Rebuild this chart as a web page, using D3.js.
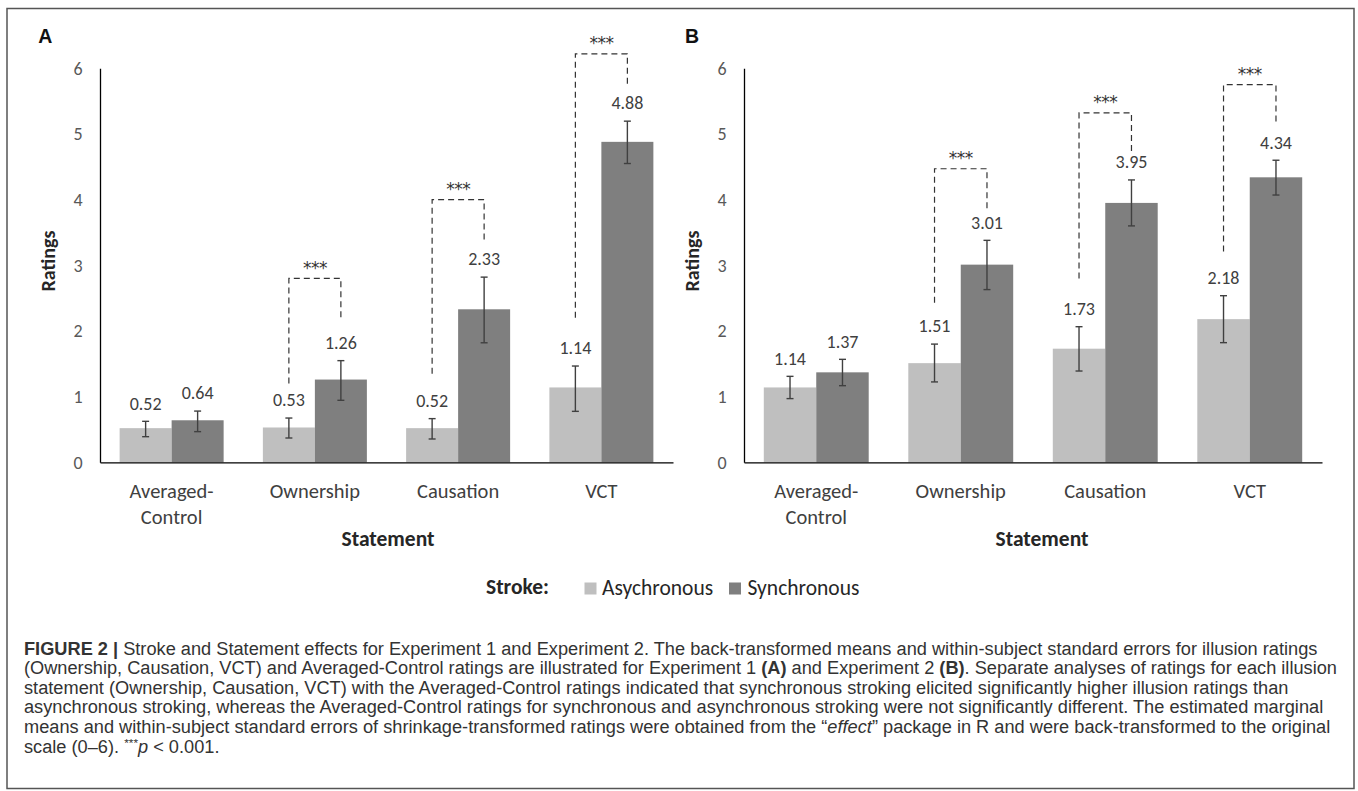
<!DOCTYPE html>
<html>
<head>
<meta charset="utf-8">
<script src="https://d3js.org/d3.v7.min.js"></script>
<style>
  html, body { margin: 0; padding: 0; background: #fff; }
  svg { display: block; }
</style>
</head>
<body>
<svg id="chart" width="1358" height="791"></svg>
<script>
// ---------------- DATA ----------------
const categories = ["Averaged-Control", "Ownership", "Causation", "VCT"];
const categoryLines = [["Averaged-", "Control"], ["Ownership"], ["Causation"], ["VCT"]];
const seriesNames = ["Asychronous", "Synchronous"];
const yTicks = [0, 1, 2, 3, 4, 5, 6];

// Experiment 1 (panel A)
const asyncA   = [0.52, 0.53, 0.52, 1.14];
const asyncAlo = [0.39, 0.37, 0.355, 0.776];
const asyncAhi = [0.624, 0.674, 0.665, 1.466];
const syncA    = [0.64, 1.26, 2.33, 4.88];
const syncAlo  = [0.467, 0.944, 1.82, 4.55];
const syncAhi  = [0.78, 1.548, 2.82, 5.195];
// significance brackets (rating-scale levels) for Ownership, Causation, VCT
const sigCatsA  = ["Ownership", "Causation", "VCT"];
const sigTopA   = [2.80, 4.00, 6.22];
const sigLeftA  = [1.20, 1.35, 2.20];
const sigRightA = [2.20, 3.38, 5.74];

// Experiment 2 (panel B)
const asyncB   = [1.14, 1.51, 1.73, 2.18];
const asyncBlo = [0.97, 1.224, 1.39, 1.822];
const asyncBhi = [1.309, 1.80, 2.065, 2.537];
const syncB    = [1.37, 3.01, 3.95, 4.34];
const syncBlo  = [1.167, 2.63, 3.60, 4.07];
const syncBhi  = [1.568, 3.38, 4.30, 4.60];
const sigCatsB  = ["Ownership", "Causation", "VCT"];
const sigTopB   = [4.47, 5.32, 5.75];
const sigLeftB  = [2.43, 2.80, 3.21];
const sigRightB = [3.86, 4.72, 5.14];

const sigLabel = "***";

// ---------------- STYLE ----------------
const chartFont = "Carlito, Calibri, Lato, 'Open Sans', sans-serif";
const colAsync = "#bfbfbf";
const colSync = "#7f7f7f";
const colErr = "#404040";

const svg = d3.select("#chart");

// outer frame
svg.append("rect")
  .attr("x", 7).attr("y", 8.5).attr("width", 1347).attr("height", 780)
  .attr("fill", "none").attr("stroke", "#555").attr("stroke-width", 1.5);

function drawPanel(cfg) {
  const g = svg.append("g");
  const x0 = d3.scaleBand().domain(categories).range(cfg.xRange)
    .paddingInner(0.274).paddingOuter(0.137);
  const x1 = d3.scaleBand().domain(seriesNames).range([0, x0.bandwidth()]);
  const y = d3.scaleLinear().domain([0, 6]).range([462.3, 68.3]);

  // panel letter
  g.append("text").attr("x", cfg.letterX).attr("y", 43.3)
    .attr("font-family", "'Liberation Sans', Arial, sans-serif")
    .attr("font-weight", "bold").attr("font-size", 19.5).attr("fill", "#111")
    .text(cfg.letter);

  // y axis (line + labels)
  const yAxis = d3.axisLeft(y).tickValues(yTicks).tickSize(0).tickPadding(17.5)
    .tickFormat(d3.format("d"));
  const ya = g.append("g").attr("transform", `translate(${cfg.xRange[0]},0)`).call(yAxis);
  ya.select(".domain").attr("stroke", "#000").attr("stroke-width", 1.3);
  ya.selectAll("text").attr("font-family", chartFont).attr("font-size", 18).attr("fill", "#595959");

  // bars
  const series = [
    { name: seriesNames[0], vals: cfg.asy, lo: cfg.asyLo, hi: cfg.asyHi, col: colAsync },
    { name: seriesNames[1], vals: cfg.syn, lo: cfg.synLo, hi: cfg.synHi, col: colSync }
  ];
  series.forEach(s => {
    const cx = (i) => x0(categories[i]) + x1(s.name) + x1.bandwidth() / 2;
    g.selectAll(null).data(s.vals).enter().append("rect")
      .attr("x", (d, i) => x0(categories[i]) + x1(s.name))
      .attr("y", d => y(d))
      .attr("width", x1.bandwidth())
      .attr("height", d => y(0) - y(d))
      .attr("fill", s.col);
    // error bars
    const eb = g.selectAll(null).data(s.vals).enter().append("g")
      .attr("stroke", colErr).attr("stroke-width", 1.4);
    eb.append("line").attr("x1", (d, i) => cx(i)).attr("x2", (d, i) => cx(i))
      .attr("y1", (d, i) => y(s.lo[i])).attr("y2", (d, i) => y(s.hi[i]));
    eb.append("line").attr("x1", (d, i) => cx(i) - 3.5).attr("x2", (d, i) => cx(i) + 3.5)
      .attr("y1", (d, i) => y(s.lo[i])).attr("y2", (d, i) => y(s.lo[i]));
    eb.append("line").attr("x1", (d, i) => cx(i) - 3.5).attr("x2", (d, i) => cx(i) + 3.5)
      .attr("y1", (d, i) => y(s.hi[i])).attr("y2", (d, i) => y(s.hi[i]));
    // value labels
    g.selectAll(null).data(s.vals).enter().append("text")
      .attr("x", (d, i) => cx(i))
      .attr("y", (d, i) => y(s.hi[i]) - 18)
      .attr("dy", "0.35em")
      .attr("text-anchor", "middle")
      .attr("font-family", chartFont).attr("font-size", 18).attr("fill", "#404040")
      .text(d => d3.format(".2f")(d));
  });

  // x axis line
  const xAxis = d3.axisBottom(x0).tickSize(0).tickFormat("");
  const xa = g.append("g").attr("transform", `translate(0,${y(0)})`).call(xAxis);
  xa.select(".domain").attr("stroke", "#000").attr("stroke-width", 1.3);

  // category labels
  categories.forEach((c, i) => {
    const t = g.append("text").attr("text-anchor", "middle")
      .attr("font-family", chartFont).attr("font-size", 20.5).attr("fill", "#404040");
    categoryLines[i].forEach((ln, k) => {
      t.append("tspan").attr("x", x0(c) + x0.bandwidth() / 2)
        .attr("y", 497.5 + k * 26).text(ln);
    });
  });

  // axis titles
  g.append("text")
    .attr("x", (cfg.xRange[0] + cfg.xRange[1]) / 2 + cfg.titleShift).attr("y", 545.5)
    .attr("text-anchor", "middle").attr("font-family", chartFont)
    .attr("font-weight", "bold").attr("font-size", 21.5).attr("fill", "#262626")
    .text("Statement");
  g.append("text")
    .attr("transform", `translate(${cfg.xRange[0] - 45},${261}) rotate(-90)`)
    .attr("text-anchor", "middle").attr("font-family", chartFont)
    .attr("font-weight", "bold").attr("font-size", 20).attr("fill", "#262626")
    .text("Ratings");

  // significance brackets
  cfg.sigCats.forEach((c, i) => {
    const xl = x0(c) + x1(seriesNames[0]) + x1.bandwidth() / 2;
    const xr = x0(c) + x1(seriesNames[1]) + x1.bandwidth() / 2;
    const yt = y(cfg.sigTop[i]);
    g.append("path")
      .attr("d", `M${xl},${y(cfg.sigLeft[i])}V${yt}H${xr}V${y(cfg.sigRight[i])}`)
      .attr("fill", "none").attr("stroke", "#333").attr("stroke-width", 1.2)
      .attr("stroke-dasharray", "6,4");
    g.append("text").attr("x", (xl + xr) / 2).attr("y", yt - 17).attr("dy", "0.72em")
      .attr("text-anchor", "middle").attr("font-family", "'DejaVu Sans', sans-serif")
      .attr("font-size", 17).attr("letter-spacing", -0.5).attr("fill", "#333").text(sigLabel);
  });
}

drawPanel({
  letter: "A", letterX: 38.3, xRange: [100, 673], titleShift: 1.5,
  asy: asyncA, asyLo: asyncAlo, asyHi: asyncAhi,
  syn: syncA, synLo: syncAlo, synHi: syncAhi,
  sigCats: sigCatsA, sigTop: sigTopA, sigLeft: sigLeftA, sigRight: sigRightA
});
drawPanel({
  letter: "B", letterX: 685, xRange: [744, 1322], titleShift: 9,
  asy: asyncB, asyLo: asyncBlo, asyHi: asyncBhi,
  syn: syncB, synLo: syncBlo, synHi: syncBhi,
  sigCats: sigCatsB, sigTop: sigTopB, sigLeft: sigLeftB, sigRight: sigRightB
});

// legend
const lg = svg.append("g");
lg.append("text").attr("x", 486).attr("y", 594)
  .attr("font-family", chartFont).attr("font-weight", "bold").attr("font-size", 21.5)
  .attr("fill", "#262626").text("Stroke:");
const legendItems = [
  { name: seriesNames[0], col: colAsync, sx: 584.5, tx: 602 },
  { name: seriesNames[1], col: colSync, sx: 729, tx: 747.5 }
];
legendItems.forEach(it => {
  lg.append("rect").attr("x", it.sx).attr("y", 582.5).attr("width", 12).attr("height", 12)
    .attr("fill", it.col);
  lg.append("text").attr("x", it.tx).attr("y", 594.5)
    .attr("font-family", chartFont).attr("font-size", 21.5).attr("fill", "#262626")
    .text(it.name);
});

// caption
const captionLines = [
  [{ t: "FIGURE 2 |", b: 1 }, { t: " Stroke and Statement effects for Experiment 1 and Experiment 2. The back-transformed means and within-subject standard errors for illusion ratings" }],
  [{ t: "(Ownership, Causation, VCT) and Averaged-Control ratings are illustrated for Experiment 1 " }, { t: "(A)", b: 1 }, { t: " and Experiment 2 " }, { t: "(B)", b: 1 }, { t: ". Separate analyses of ratings for each illusion" }],
  [{ t: "statement (Ownership, Causation, VCT) with the Averaged-Control ratings indicated that synchronous stroking elicited significantly higher illusion ratings than" }],
  [{ t: "asynchronous stroking, whereas the Averaged-Control ratings for synchronous and asynchronous stroking were not significantly different. The estimated marginal" }],
  [{ t: "means and within-subject standard errors of shrinkage-transformed ratings were obtained from the \u201c" }, { t: "effect", i: 1 }, { t: "\u201d package in R and were back-transformed to the original" }],
  [{ t: "scale (0\u20136). " }, { t: "***", sup: 1 }, { t: "p", i: 1 }, { t: " < 0.001." }]
];
const capFont = "'Liberation Sans Narrow', 'Liberation Sans', Arial, sans-serif";
const cap = svg.append("g").attr("font-family", capFont).attr("fill", "#333");
const capTexts = captionLines.map((segs, li) => {
  const t = cap.append("text").attr("x", 24).attr("y", 654.5 + li * 19.6).attr("font-size", 16);
  segs.forEach(s => {
    const sp = t.append("tspan").text(s.t);
    if (s.b) sp.attr("font-weight", "bold");
    if (s.i) sp.attr("font-style", "italic");
    if (s.sup) sp.attr("font-size", "0.65em").attr("dy", "-0.45em");
    if (li === 5 && s.i) sp.attr("dy", "0.3em");
  });
  return t;
});
// fit font size so first line spans the measured width
const w0 = capTexts[0].node().getComputedTextLength();
const fs = 16 * 1294 / w0;
capTexts.forEach(t => t.attr("font-size", fs));
</script>
</body>
</html>
